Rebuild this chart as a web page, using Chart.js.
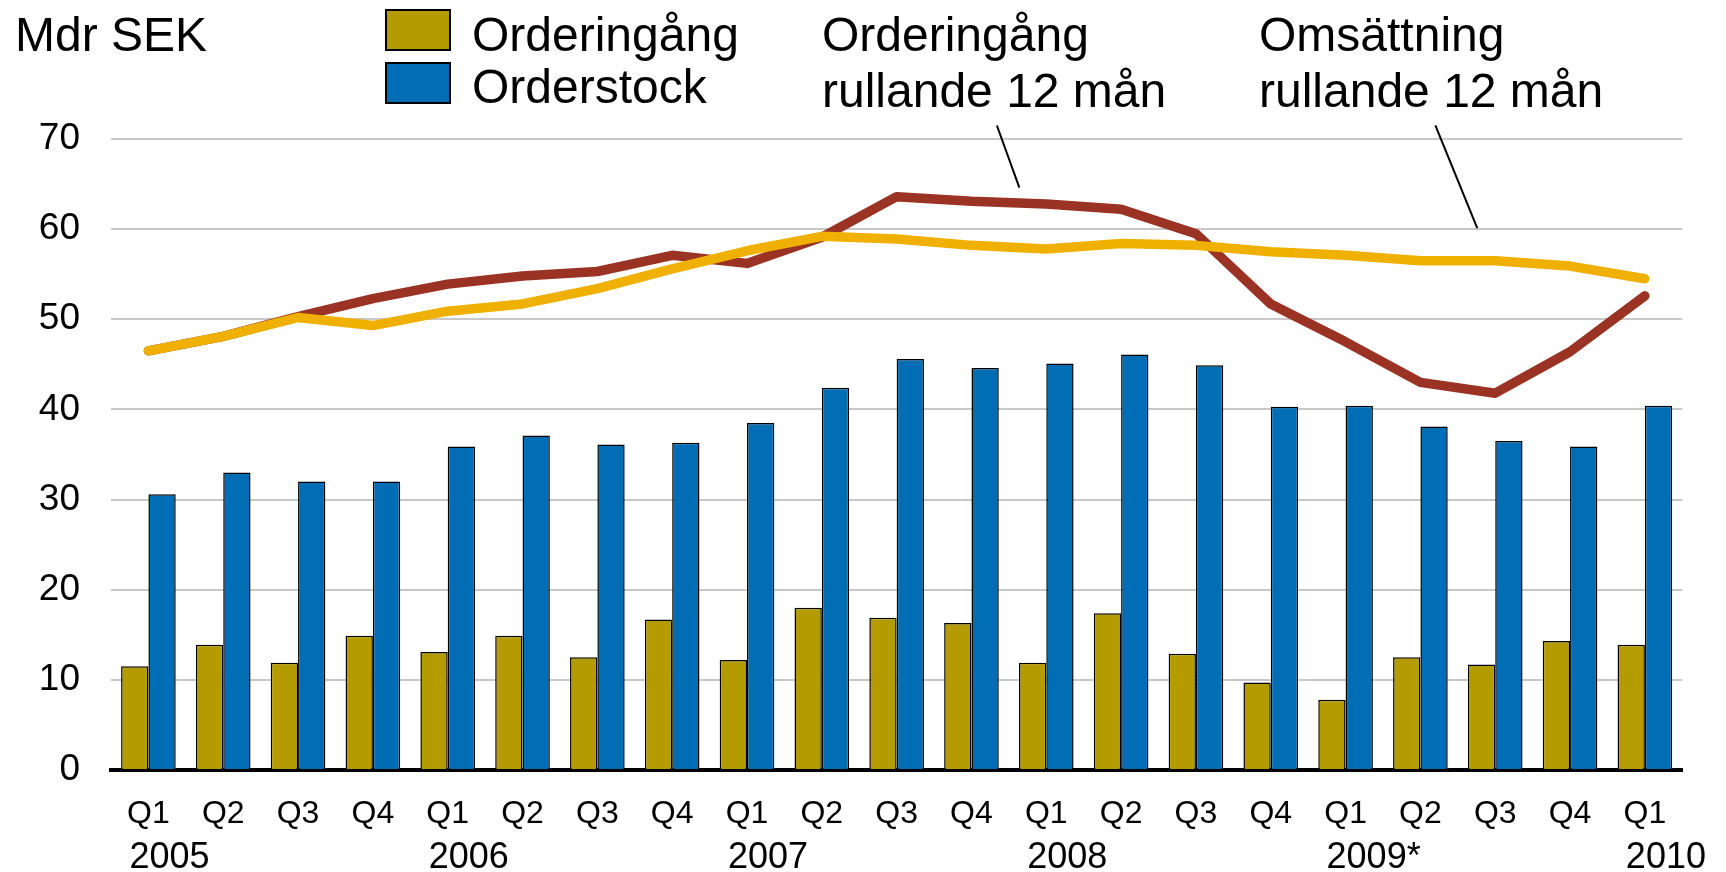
<!DOCTYPE html>
<html>
<head>
<meta charset="utf-8">
<script src="https://cdn.jsdelivr.net/npm/chart.js@4.4.1/dist/chart.umd.min.js"></script>
<style>
  html, body { margin: 0; padding: 0; background: #fff; }
  #wrap { width: 1726px; height: 872px; }
</style>
</head>
<body>
<div id="wrap"><canvas id="chart" width="1726" height="872"></canvas></div>
<script>
const quarters = ['Q1','Q2','Q3','Q4','Q1','Q2','Q3','Q4','Q1','Q2','Q3','Q4','Q1','Q2','Q3','Q4','Q1','Q2','Q3','Q4','Q1'];
const yearTicks = ['2005','','','','2006','','','','2007','','','','2008','','','','2009*','','','','2010'];

// Mdr SEK
const orderIntake   = [11.5, 13.9, 11.9, 14.9, 13.1, 14.9, 12.5, 16.7, 12.2, 18.0, 16.9, 16.3, 11.9, 17.4, 12.9, 9.7, 7.8, 12.5, 11.7, 14.3, 13.9];
const orderBook     = [30.6, 33.0, 32.0, 32.0, 35.9, 37.1, 36.1, 36.3, 38.5, 42.4, 45.6, 44.6, 45.1, 46.1, 44.9, 40.3, 40.4, 38.1, 36.5, 35.9, 40.4];
const intakeRolling = [46.5, 48.1, 50.3, 52.3, 53.9, 54.8, 55.3, 57.1, 56.2, 59.1, 63.6, 63.1, 62.8, 62.2, 59.5, 51.7, 47.5, 43.0, 41.8, 46.4, 52.6];
const salesRolling  = [46.5, 48.1, 50.2, 49.3, 50.9, 51.7, 53.4, 55.6, 57.6, 59.2, 58.9, 58.2, 57.8, 58.4, 58.2, 57.5, 57.1, 56.5, 56.5, 55.9, 54.5];

const FONT = '"Liberation Sans", Arial, Helvetica, sans-serif';
const OLIVE = '#B39B00';
const BLUE = '#006DB5';
const RED = '#9A3324';
const YELLOW = '#F0B000';

// texter, legend och pekarlinjer ovanför diagrammet
const overlay = {
    id: 'overlay',
    afterDraw(chart) {
        const ctx = chart.ctx;
        const xs = chart.scales.x;
        const ys = chart.scales.y;
        ctx.save();
        ctx.fillStyle = '#000';
        ctx.textBaseline = 'alphabetic';
        ctx.font = '48px ' + FONT;
        ctx.fillText('Mdr SEK', 15, 51);

        // legend
        const boxes = [[OLIVE, 'Orderingång', 9, 51], [BLUE, 'Orderstock', 62, 103]];
        boxes.forEach(([color, label, top, base]) => {
            ctx.fillStyle = color;
            ctx.fillRect(385, top, 66, 42);
            ctx.strokeStyle = '#000';
            ctx.lineWidth = 2;
            ctx.strokeRect(386, top + 1, 64, 40);
            ctx.fillStyle = '#000';
            ctx.fillText(label, 472, base);
        });

        ctx.fillText('Orderingång', 822, 51);
        ctx.fillText('rullande 12 mån', 822, 107);
        ctx.fillText('Omsättning', 1259, 51);
        ctx.fillText('rullande 12 mån', 1259, 107);

        // pekarlinjer
        const pos = (i, v) => {
            const a = xs.getPixelForValue(Math.floor(i));
            const b = xs.getPixelForValue(Math.floor(i) + 1);
            return [a + (b - a) * (i - Math.floor(i)), ys.getPixelForValue(v)];
        };
        ctx.strokeStyle = '#000';
        ctx.lineWidth = 2;
        [[11.34, 71.5, 11.64, 64.6], [17.2, 71.5, 17.76, 60.1]].forEach(([i1, v1, i2, v2]) => {
            const p1 = pos(i1, v1);
            const p2 = pos(i2, v2);
            ctx.beginPath();
            ctx.moveTo(p1[0], p1[1]);
            ctx.lineTo(p2[0], p2[1]);
            ctx.stroke();
        });
        ctx.restore();
    }
};

new Chart(document.getElementById('chart'), {
    type: 'bar',
    data: {
        labels: quarters,
        datasets: [
            {
                type: 'line',
                label: 'Omsättning rullande 12 mån',
                data: salesRolling,
                xAxisID: 'x',
                borderColor: YELLOW,
                borderWidth: 9.5,
                borderCapStyle: 'round',
                borderJoinStyle: 'round',
                pointRadius: 0,
                tension: 0,
                order: 0
            },
            {
                type: 'line',
                label: 'Orderingång rullande 12 mån',
                data: intakeRolling,
                xAxisID: 'x',
                borderColor: RED,
                borderWidth: 9.5,
                borderCapStyle: 'round',
                borderJoinStyle: 'round',
                pointRadius: 0,
                tension: 0,
                order: 1
            },
            {
                label: 'Orderingång',
                data: orderIntake,
                xAxisID: 'x',
                backgroundColor: OLIVE,
                borderColor: '#000',
                borderWidth: 1.5,
                categoryPercentage: 0.73,
                barPercentage: 1.0,
                order: 2
            },
            {
                label: 'Orderstock',
                data: orderBook,
                xAxisID: 'x',
                backgroundColor: BLUE,
                borderColor: '#000',
                borderWidth: 1.5,
                categoryPercentage: 0.73,
                barPercentage: 1.0,
                order: 3
            }
        ]
    },
    options: {
        responsive: false,
        animation: false,
        layout: { padding: { top: 139, right: 43, left: 0, bottom: 0 } },
        plugins: {
            legend: { display: false },
            tooltip: { enabled: false }
        },
        scales: {
            x: {
                position: 'bottom',
                weight: 0,
                offset: true,
                grid: { display: false, drawTicks: false },
                border: { display: true, color: '#000', width: 4 },
                ticks: {
                    color: '#000',
                    font: { family: FONT, size: 32 },
                    autoSkip: false,
                    maxRotation: 0,
                    minRotation: 0,
                    padding: 25
                },
                afterFit(scale) { scale.height = 66; }
            },
            x2: {
                type: 'category',
                position: 'bottom',
                weight: 1,
                labels: yearTicks,
                offset: true,
                grid: { display: false, drawTicks: false },
                border: { display: false },
                ticks: {
                    color: '#000',
                    font: { family: FONT, size: 36 },
                    autoSkip: false,
                    maxRotation: 0,
                    minRotation: 0,
                    align: 'start',
                    labelOffset: -19,
                    padding: 0
                },
                afterFit(scale) { scale.height = 36; }
            },
            y: {
                min: 0,
                max: 70,
                grid: { color: '#C8C8C8', lineWidth: 2, drawTicks: false },
                border: { display: false },
                ticks: {
                    stepSize: 10,
                    color: '#000',
                    font: { family: FONT, size: 37 },
                    padding: 31
                },
                afterFit(scale) { scale.width = 111; }
            }
        }
    },
    plugins: [overlay]
});
</script>
</body>
</html>
